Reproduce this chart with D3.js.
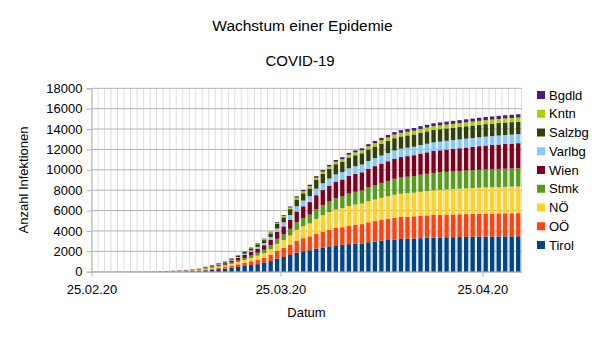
<!DOCTYPE html>
<html>
<head>
<meta charset="utf-8">
<script src="https://cdn.jsdelivr.net/npm/d3@7"></script>
<style>
  body { margin: 0; background: #fff; }
  svg { display: block; font-family: "Liberation Sans", Arial, sans-serif; }
</style>
</head>
<body>
<div id="chart"></div>
<script>
// first and last day shown (one bar per day)
const firstDay = '2020-02-25';
const endDay = '2020-05-01';
const tickDays = ['2020-02-25', '2020-03-25', '2020-04-25'];
const tickLabels = ['25.02.20', '25.03.20', '25.04.20'];
const yTicks = [0, 2000, 4000, 6000, 8000, 10000, 12000, 14000, 16000, 18000];

// states in stacking order (bottom to top)
const states = ['Tirol', 'OÖ', 'NÖ', 'Stmk', 'Wien', 'Varlbg', 'Salzbg', 'Kntn', 'Bgdld'];
const colors = ['#004586', '#ff420e', '#ffd320', '#579d1c', '#7e0021', '#83caff', '#314004', '#aecf00', '#4b1f6f'];

// cumulative cases per day
const tirol = [2, 2, 2, 2, 2, 2, 2, 3, 4, 6, 8, 11, 19, 27, 40, 60, 75,
  140, 190, 255, 300, 390, 470, 560, 650, 740, 860, 1040, 1280, 1440, 1640, 1870, 2010, 2110, 2250, 2390,
  2490, 2590, 2630, 2700, 2740, 2770, 2889, 2950, 3040, 3110, 3170, 3210, 3230, 3250, 3290, 3320, 3350, 3365,
  3380, 3390, 3400, 3410, 3420, 3430, 3440, 3450, 3460, 3467, 3474, 3480];
const ooe = [0, 0, 0, 0, 0, 0, 0, 1, 2, 4, 5, 7, 12, 17, 25, 35, 43,
  75, 100, 135, 160, 210, 260, 320, 380, 450, 520, 640, 790, 900, 1030, 1180, 1280, 1360, 1470, 1550,
  1610, 1700, 1740, 1820, 1870, 1900, 1960, 2020, 2060, 2100, 2140, 2160, 2175, 2185, 2195, 2205, 2215, 2222,
  2228, 2234, 2240, 2245, 2249, 2253, 2256, 2258, 2260, 2262, 2263, 2265];
const noe = [0, 0, 0, 1, 1, 1, 1, 3, 4, 6, 7, 10, 14, 19, 26, 34, 41,
  65, 85, 110, 130, 170, 215, 265, 320, 380, 440, 530, 660, 760, 880, 1060, 1170, 1260, 1460, 1610,
  1740, 1810, 1870, 1930, 1980, 2010, 2070, 2110, 2150, 2190, 2240, 2280, 2300, 2320, 2360, 2390, 2420, 2440,
  2460, 2480, 2500, 2520, 2540, 2560, 2575, 2585, 2595, 2605, 2612, 2620];
const stmk = [0, 0, 0, 0, 0, 1, 1, 2, 3, 4, 6, 8, 11, 14, 19, 26, 32,
  50, 65, 85, 100, 130, 165, 205, 245, 290, 330, 400, 500, 570, 660, 760, 820, 870, 957, 1000,
  1050, 1110, 1140, 1215, 1250, 1290, 1350, 1410, 1460, 1510, 1570, 1600, 1620, 1640, 1670, 1690, 1710, 1720,
  1730, 1738, 1745, 1750, 1754, 1758, 1762, 1766, 1770, 1774, 1777, 1780];
const wien = [0, 0, 1, 2, 5, 5, 5, 7, 8, 11, 13, 18, 24, 30, 38, 48, 56,
  80, 100, 130, 150, 195, 240, 290, 340, 400, 450, 540, 680, 780, 900, 1040, 1140, 1230, 1370, 1460,
  1560, 1630, 1670, 1740, 1760, 1790, 1830, 1870, 1900, 1930, 1970, 2000, 2020, 2040, 2080, 2110, 2150, 2170,
  2190, 2210, 2230, 2260, 2290, 2320, 2350, 2370, 2400, 2425, 2445, 2470];
const varlbg = [0, 0, 0, 0, 0, 0, 0, 0, 0, 1, 2, 4, 6, 8, 11, 13, 16,
  25, 35, 45, 55, 75, 95, 125, 150, 180, 210, 260, 330, 390, 450, 510, 560, 590, 640, 670,
  690, 710, 720, 740, 750, 760, 770, 780, 790, 800, 810, 820, 825, 830, 840, 845, 850, 854,
  858, 861, 864, 867, 870, 873, 876, 878, 880, 882, 884, 886];
const salzbg = [0, 0, 0, 0, 1, 1, 1, 2, 3, 4, 5, 6, 9, 11, 15, 20, 26,
  40, 50, 65, 80, 105, 135, 170, 210, 250, 290, 350, 440, 500, 580, 670, 720, 760, 860, 910,
  950, 1000, 1030, 1060, 1080, 1100, 1130, 1150, 1170, 1190, 1200, 1205, 1208, 1210, 1212, 1214, 1216, 1217,
  1218, 1219, 1220, 1221, 1222, 1222, 1223, 1223, 1224, 1224, 1224, 1224];
const kntn = [0, 0, 0, 0, 0, 0, 0, 0, 0, 1, 1, 1, 2, 3, 5, 6, 8,
  17, 17, 20, 25, 35, 40, 48, 58, 80, 90, 105, 125, 140, 160, 185, 195, 205, 215, 225,
  230, 245, 255, 270, 280, 290, 305, 320, 330, 340, 350, 355, 358, 360, 363, 366, 369, 372,
  375, 378, 381, 384, 387, 390, 394, 397, 400, 403, 406, 410];
const bgdld = [0, 0, 0, 0, 0, 0, 0, 0, 0, 0, 0, 1, 2, 2, 3, 4, 5,
  12, 13, 15, 18, 22, 26, 30, 35, 44, 54, 59, 71, 80, 98, 124, 135, 151, 155, 159,
  162, 172, 180, 190, 197, 205, 215, 225, 235, 245, 255, 260, 264, 268, 273, 277, 281, 285,
  289, 292, 295, 298, 301, 304, 307, 309, 312, 315, 317, 320];

const series = [tirol, ooe, noe, stmk, wien, varlbg, salzbg, kntn, bgdld];

const width = 605;
const height = 340;
const plot = {left: 91.5, right: 521.5, top: 88.3, bottom: 271.7};

const svg = d3.select('#chart').append('svg')
  .attr('width', width)
  .attr('height', height);

const days = d3.utcDay.range(new Date(firstDay), new Date(endDay));

// table for the stack: one row per day
const rows = days.map((d, i) => {
  const row = {date: d};
  states.forEach((s, k) => { row[s] = series[k][i]; });
  return row;
});

const x = d3.scaleUtc()
  .domain([new Date(firstDay), new Date(endDay)])
  .range([plot.left, plot.right]);

const y = d3.scaleLinear()
  .domain([0, 18000])
  .range([plot.bottom, plot.top]);

const color = d3.scaleOrdinal().domain(states).range(colors);

// vertical grid, one line per day boundary
svg.append('g')
  .selectAll('line')
  .data(days.concat([new Date(endDay)]))
  .enter().append('line')
  .attr('x1', d => x(d))
  .attr('x2', d => x(d))
  .attr('y1', plot.top)
  .attr('y2', plot.bottom)
  .attr('stroke', '#dddddd')
  .attr('stroke-width', 1);

// horizontal grid
svg.append('g')
  .selectAll('line')
  .data(yTicks)
  .enter().append('line')
  .attr('x1', plot.left)
  .attr('x2', plot.right)
  .attr('y1', d => y(d))
  .attr('y2', d => y(d))
  .attr('stroke', '#b3b3b3')
  .attr('stroke-width', 1);

// stacked bars
const stacked = d3.stack().keys(states)(rows);
const step = x(days[1]) - x(days[0]);
const barW = step / 1.5;

svg.append('g')
  .selectAll('g')
  .data(stacked)
  .enter().append('g')
  .attr('fill', d => color(d.key))
  .selectAll('rect')
  .data(d => d)
  .enter().append('rect')
  .attr('x', d => x(d.data.date) + (step - barW) / 2)
  .attr('y', d => y(d[1]))
  .attr('width', barW)
  .attr('height', d => y(d[0]) - y(d[1]));

// y axis
const yAxis = svg.append('g')
  .attr('transform', 'translate(' + plot.left + ',0)')
  .call(d3.axisLeft(y).tickValues(yTicks).tickSize(5).tickPadding(4).tickFormat(d => d));
yAxis.select('.domain').attr('stroke', '#b3b3b3');
yAxis.selectAll('.tick line').attr('stroke', '#b3b3b3');
yAxis.selectAll('text')
  .attr('font-size', 13)
  .attr('font-family', '"Liberation Sans", Arial, sans-serif')
  .attr('fill', '#000');

// x axis
const xAxis = svg.append('g')
  .attr('transform', 'translate(0,' + plot.bottom + ')')
  .call(d3.axisBottom(x)
    .tickValues(tickDays.map(d => new Date(d)))
    .tickSize(5)
    .tickPadding(8)
    .tickSizeOuter(0)
    .tickFormat((d, i) => tickLabels[i]));
xAxis.select('.domain').attr('stroke', '#b3b3b3');
xAxis.selectAll('.tick line').attr('stroke', '#b3b3b3');
xAxis.selectAll('text')
  .attr('font-size', 13)
  .attr('font-family', '"Liberation Sans", Arial, sans-serif')
  .attr('fill', '#000');

// titles
svg.append('text')
  .attr('x', 302.5)
  .attr('y', 31)
  .attr('text-anchor', 'middle')
  .attr('font-size', 15.5)
  .text('Wachstum einer Epidemie');

svg.append('text')
  .attr('x', 300)
  .attr('y', 66)
  .attr('text-anchor', 'middle')
  .attr('font-size', 15)
  .text('COVID-19');

svg.append('text')
  .attr('x', (plot.left + plot.right) / 2)
  .attr('y', 317)
  .attr('text-anchor', 'middle')
  .attr('font-size', 13)
  .text('Datum');

svg.append('text')
  .attr('transform', 'translate(28,' + ((plot.top + plot.bottom) / 2) + ') rotate(-90)')
  .attr('text-anchor', 'middle')
  .attr('font-size', 13)
  .text('Anzahl Infektionen');

// legend, top entry is the top of the stack
const legend = svg.append('g')
  .selectAll('g')
  .data(states.slice().reverse())
  .enter().append('g')
  .attr('transform', (d, i) => 'translate(537,' + (91 + i * 18.75) + ')');

legend.append('rect')
  .attr('width', 8)
  .attr('height', 8)
  .attr('fill', d => color(d));

legend.append('text')
  .attr('x', 12)
  .attr('y', 4)
  .attr('dy', '0.35em')
  .attr('font-size', 13)
  .text(d => d);
</script>
</body>
</html>
